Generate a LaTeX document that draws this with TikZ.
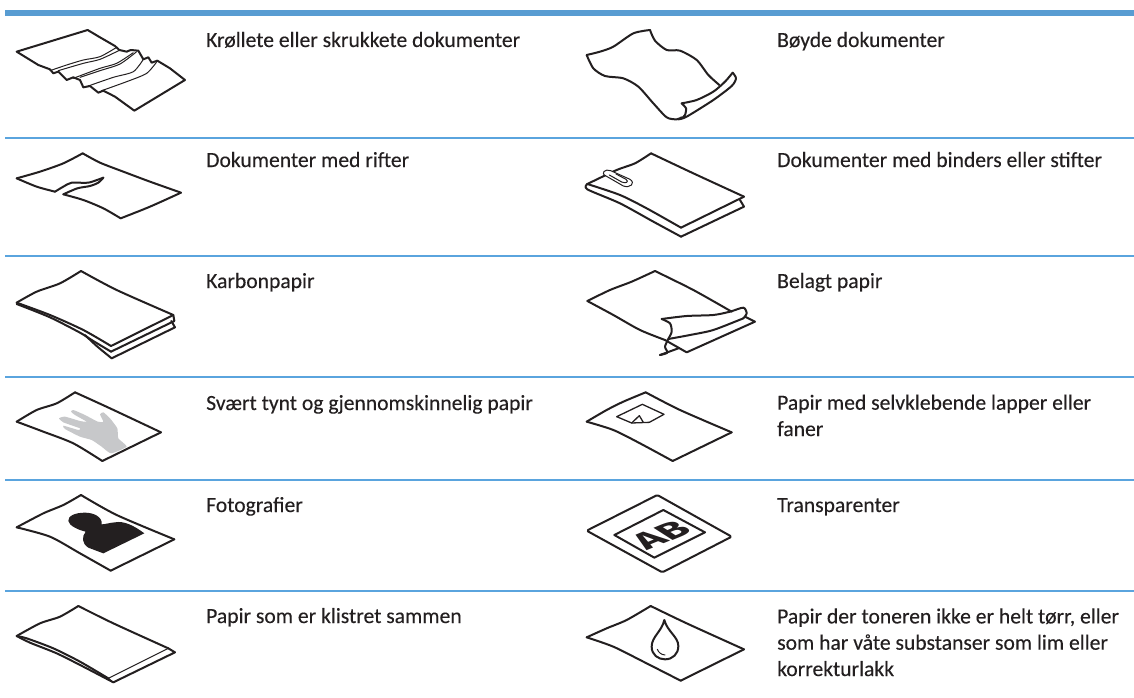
\documentclass[tikz,border=0pt]{standalone}
\usepackage{fontspec}
\setmainfont[FakeBold=0.2]{Carlito}
\newfontfamily\abfont{Fira Sans}
\definecolor{barblue}{HTML}{589CD2}
\definecolor{ruleblue}{HTML}{5AA4DE}
\definecolor{ink}{HTML}{231F20}
\definecolor{handgray}{HTML}{C7C8CA}
\tikzset{
  icon/.style={x=.33333pt,y=-.33333pt},
  sheet/.style={draw=ink,line width=2pt,line join=round,line cap=round},
  fine/.style={draw=ink,line width=1pt,line join=round,line cap=round},
  lab/.style={anchor=base west,inner sep=0pt,font=\fontsize{21.6}{26.3}\selectfont,text=ink,align=left},
  sm/.style={smooth,tension=.45}
}
\begin{document}
\begin{tikzpicture}[x=1pt,y=-1pt]
\useasboundingbox (0,0) rectangle (1134,698);
\fill[white] (0,0) rectangle (1134,698);
\fill[barblue] (5,10) rectangle (1134,16);
\foreach \yy in {138,256,377,480,591} \draw[ruleblue,line width=1.3pt] (5,\yy) -- (1134,\yy);

% labels
\node[lab] (t1) at (206,47) {Krøllete eller skrukkete dokumenter};
\node[lab] (t2) at (206,167) {Dokumenter med rifter};
\node[lab] (t3) at (206,288) {Karbonpapir};
\node[lab] (t4) at (206,410) {Svært tynt og gjennomskinnelig papir};
\node[lab] (t5) at (206,512) {Fotografier};
\node[lab] (t6) at (206,623) {Papir som er klistret sammen};
\node[lab] (u1) at (777,47) {Bøyde dokumenter};
\node[lab] (u2) at (777,167) {Dokumenter med binders eller stifter};
\node[lab] (u3) at (777,288) {Belagt papir};
\node[lab] (u4) at (777,436) {Papir med selvklebende lapper eller\\faner};
\node[lab] (u5) at (777,512) {Transparenter};
\node[lab] (u6) at (777,676) {Papir der toneren ikke er helt tørr, eller\\som har våte substanser som lim eller\\korrekturlakk};

% crumpled
\begin{scope}[icon]
\draw[sheet] (50,155) -- (263,90) -- (300,112) -- (345,138) -- (358,150) -- (380,155) -- (392,150) -- (415,152) -- (430,178) -- (445,172) -- (455,188) -- (472,182) -- (510,205) -- (555,240) -- (403,332) -- (345,290) -- (310,272) -- (295,278) -- (270,258) -- (250,262) -- (240,240) -- (220,232) -- (200,240) -- (175,215) -- (160,220) -- (150,208) -- (115,195) -- cycle;
\draw[fine] plot[sm] coordinates {(150,212) (200,195) (250,180) (300,170) (350,142)};
\draw[fine] plot[sm] coordinates {(175,212) (250,190) (300,178) (360,150)};
\draw[fine] plot[sm] coordinates {(220,235) (300,205) (350,190) (400,158)};
\draw[fine] plot[sm] coordinates {(240,232) (300,212) (360,192) (410,155)};
\draw[fine] plot[sm] coordinates {(265,258) (340,232) (400,215) (430,178)};
\draw[fine] plot[sm] coordinates {(305,272) (380,245) (440,220) (472,183)};
\end{scope}

% torn
\begin{scope}[icon]
\draw[sheet] plot[sm] coordinates {(50,535) (120,515) (190,490) (248,460)};
\draw[sheet] plot[sm] coordinates {(248,460) (300,488) (370,515) (450,545) (543,578)};
\draw[sheet] plot[sm] coordinates {(543,578) (450,620) (362,655)};
\draw[sheet] plot[sm] coordinates {(362,655) (310,625) (250,600) (190,583)};
\draw[sheet] plot[sm] coordinates {(190,583) (232,565) (270,558) (295,548) (310,533)};
\draw[sheet] plot[sm] coordinates {(310,533) (265,548) (215,548) (190,560) (165,575)};
\draw[sheet] plot[sm] coordinates {(165,575) (110,560) (50,535)};
\end{scope}

% carbon
\begin{scope}[shift={(0,240)},icon]
\draw[sheet] plot[sm] coordinates {(50,188) (110,155) (180,130) (243,93)};
\draw[sheet] plot[sm] coordinates {(243,93) (350,150) (520,225)};
\draw[sheet] (520,225) -- (333,318);
\draw[sheet] plot[sm] coordinates {(333,318) (250,270) (150,225) (50,188)};
\draw[sheet] plot[sm] coordinates {(50,192) (150,232) (240,278) (275,300) (333,335)};
\draw[sheet] (520,225) -- (523,243) -- (333,335);
\draw[sheet] plot[sm] coordinates {(255,285) (290,318) (335,355)};
\draw[sheet] (514,243) -- (525,262) -- (335,355);
\end{scope}

% thin
\begin{scope}[shift={(0,240)},icon]
\draw[sheet] plot[sm] coordinates {(50,545) (110,510) (170,490) (225,457)};
\draw[sheet] plot[sm] coordinates {(225,457) (330,505) (483,577)};
\draw[sheet] (483,577) -- (307,663);
\draw[sheet] plot[sm] coordinates {(307,663) (220,610) (130,575) (50,545)};
\fill[handgray] plot[smooth cycle,tension=.3] coordinates {(380,620) (355,595) (352,565) (330,535) (310,517) (300,523) (310,545) (293,545) (255,525) (220,510) (213,515) (225,525) (260,545) (240,543) (195,530) (177,535) (190,547) (240,565) (235,570) (190,557) (195,567) (240,590) (275,600) (305,620) (333,640)};
\end{scope}

% photo
\begin{scope}[shift={(0,480)},icon]
\draw[sheet] plot[sm] coordinates {(50,142) (130,100) (190,75) (243,45)};
\draw[sheet] plot[sm] coordinates {(243,45) (350,105) (523,178)};
\draw[sheet] (523,178) -- (332,272);
\draw[sheet] plot[sm] coordinates {(332,272) (240,220) (150,170) (50,142)};
\fill[ink] (310,220) -- (433,160) .. controls (400,135) and (370,122) .. (345,127) .. controls (330,128) and (315,133) .. (305,133) .. controls (308,110) and (280,98) .. (255,98) .. controls (225,98) and (203,108) .. (205,123) .. controls (207,137) and (235,150) .. (257,155) .. controls (245,170) and (245,190) .. (265,203) -- cycle;
\end{scope}

% glued
\begin{scope}[shift={(0,480)},icon]
\draw[sheet] plot[sm] coordinates {(50,468) (120,430) (180,410) (235,378)};
\draw[sheet] plot[sm] coordinates {(235,378) (340,430) (505,505)};
\draw[fine] (505,505) -- (325,595) -- (340,607);
\draw[sheet] plot[sm] coordinates {(325,595) (240,545) (160,505) (80,475) (50,468)};
\draw[sheet] plot[sm] coordinates {(50,468) (90,488) (170,520) (250,560) (340,607)};
\draw[sheet] (340,607) -- (525,517) -- (505,505);
\end{scope}

% bent
\begin{scope}[shift={(580,0)},icon]
\draw[sheet] plot[sm] coordinates {(20,165) (60,155) (100,140) (160,100) (210,90)};
\draw[sheet] plot[sm] coordinates {(210,90) (225,122) (260,150) (300,152) (350,180) (385,225) (418,255)};
\draw[sheet] plot[sm] coordinates {(20,165) (40,205) (75,228) (130,235) (175,260) (220,310) (260,352) (290,358) (305,352)};
\draw[sheet] plot[sm] coordinates {(305,310) (350,300) (400,275) (435,245) (458,218)};
\draw[sheet] plot[sm] coordinates {(458,218) (468,235) (455,258) (400,300) (320,350) (295,358)};
\draw[sheet] plot[sm] coordinates {(305,310) (318,325) (315,345) (305,355)};
\end{scope}

% clipped
\begin{scope}[shift={(580,0)},icon]
\draw[sheet] plot[sm] coordinates {(22,552) (110,510) (165,490) (213,460)};
\draw[sheet] plot[sm] coordinates {(213,460) (340,520) (492,590)};
\draw[sheet] (492,590) -- (303,683);
\draw[sheet] plot[sm] coordinates {(303,683) (200,625) (120,585) (22,552)};
\draw[sheet] plot[sm] coordinates {(22,552) (22,568) (120,610) (220,665) (303,710)};
\draw[sheet] (303,710) -- (492,620) -- (480,600);
\draw[fine,fill=white] (78,528) -- (130,558) .. controls (150,565) and (168,550) .. (150,538) -- (92,512) .. controls (75,505) and (60,520) .. (78,528);
\draw[fine] (88,525) -- (125,546) .. controls (138,552) and (148,545) .. (138,538) -- (108,522);
\end{scope}

% coated
\begin{scope}[shift={(580,240)},icon]
\draw[sheet] plot[sm] coordinates {(22,183) (90,150) (155,125) (225,93)};
\draw[sheet] plot[sm] coordinates {(225,93) (340,150) (455,215)};
\draw[sheet] plot[sm] coordinates {(22,183) (100,225) (180,270) (255,300)};
\draw[sheet] plot[sm] coordinates {(245,237) (320,228) (400,225) (450,215) (490,203) (500,220) (490,235)};
\draw[sheet] plot[sm] coordinates {(490,235) (400,270) (330,285) (265,297)};
\draw[sheet] plot[sm] coordinates {(245,237) (270,250) (275,275) (265,297) (255,320) (262,338) (240,345)};
\draw[sheet] (240,345) -- (295,325);
\draw[sheet] (255,300) -- (320,337) -- (525,245) -- (495,230);
\end{scope}

% sticky
\begin{scope}[shift={(580,240)},icon]
\draw[sheet] plot[sm] coordinates {(20,545) (80,510) (130,485) (197,457)};
\draw[sheet] plot[sm] coordinates {(197,457) (300,510) (455,577)};
\draw[sheet] (455,577) -- (278,663);
\draw[sheet] plot[sm] coordinates {(278,663) (180,610) (100,570) (20,545)};
\draw[fine,line width=1.3pt] (110,530) -- (187,493) -- (252,523) -- (208,547) -- (155,549) -- cycle;
\draw[fine,line width=1.3pt] (155,549) -- (178,527) -- (190,547);
\end{scope}

% transparency
\begin{scope}[shift={(580,480)},icon]
\draw[sheet,rounded corners=1.5pt] (20,152) -- (232,45) -- (455,170) -- (247,277) -- cycle;
\draw[sheet] (103,165) -- (250,90) -- (375,157) -- (223,233) -- cycle;
\node[cm={1.75,.72,-1.25,.8,(0,0)},inner sep=0pt,text=ink,font=\fontsize{22}{22}\abfont\bfseries\selectfont] (ab) at (243,165) {AB};
\end{scope}

% drop
\begin{scope}[shift={(580,480)},icon]
\draw[sheet] plot[sm] coordinates {(20,472) (80,445) (140,420) (212,378)};
\draw[sheet] plot[sm] coordinates {(212,378) (320,430) (492,508)};
\draw[sheet] (492,508) -- (302,602);
\draw[sheet] plot[sm] coordinates {(302,602) (190,545) (100,500) (20,472)};
\draw[sheet] (253,420) .. controls (245,455) and (215,470) .. (215,500) .. controls (215,525) and (235,538) .. (255,538) .. controls (278,538) and (295,522) .. (295,498) .. controls (295,470) and (262,455) .. (253,420) -- cycle;
\draw[fine] (232,508) .. controls (236,518) and (244,524) .. (255,525);
\end{scope}
\end{tikzpicture}
\end{document}
